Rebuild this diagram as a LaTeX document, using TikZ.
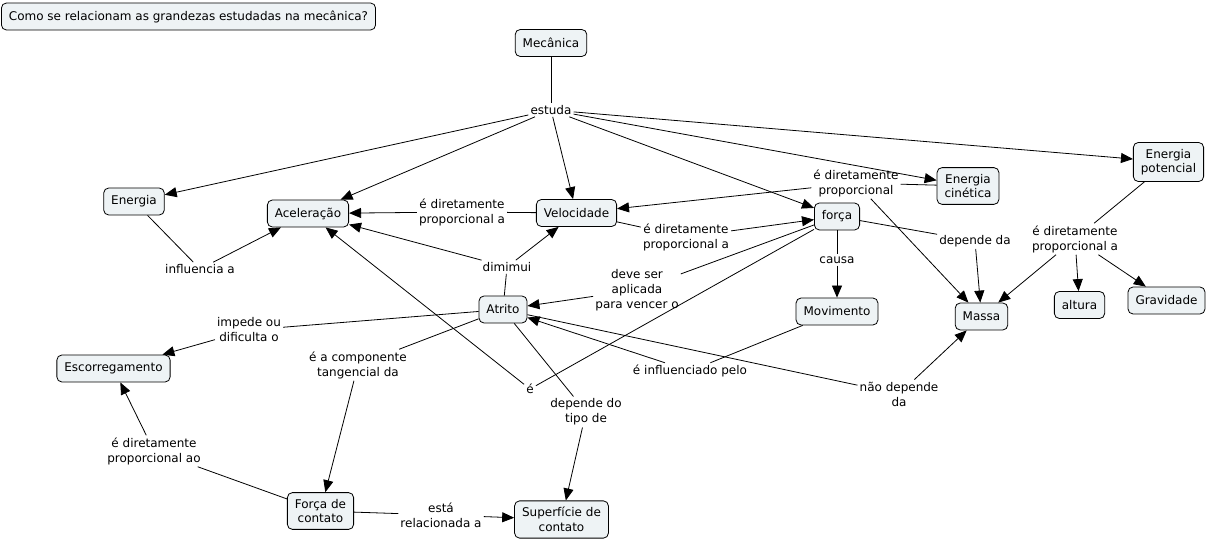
\documentclass[tikz,border=0pt]{standalone}
\usepackage{fontspec}
\setmainfont{DejaVu Sans}
\usetikzlibrary{arrows.meta}
\definecolor{nodefill}{HTML}{EEF3F5}
\tikzset{
  concept/.style={draw=black, line width=0.8bp, rounded corners=5bp, fill=nodefill, align=center, inner xsep=7.5bp, inner ysep=6.5bp, minimum height=27bp, font=\fontsize{12bp}{14.5bp}\selectfont},
  lbl/.style={align=center, inner sep=2bp, font=\fontsize{12bp}{15bp}\selectfont},
  ln/.style={line width=0.8bp},
  arr/.style={line width=0.8bp, -{Triangle[length=12bp,width=10bp]}}
}
\begin{document}
\begin{tikzpicture}[x=1bp,y=-1bp]
\useasboundingbox (0,0) rectangle (1208,542);
% concepts
\node[concept, minimum width=373bp, inner ysep=4bp] (title) at (188.5,16.5) {Como se relacionam as grandezas estudadas na mecânica?};
\node[concept] (mec) at (551,43) {Mecânica};
\node[concept] (energia) at (134,201.5) {Energia};
\node[concept] (acel) at (308,213.5) {Aceleração};
\node[concept] (vel) at (576.5,213) {Velocidade};
\node[concept] (forca) at (837,216.5) {força};
\node[concept] (ecin) at (968,186) {Energia\\cinética};
\node[concept] (epot) at (1168.5,162) {Energia\\potencial};
\node[concept] (massa) at (981.5,316.5) {Massa};
\node[concept] (altura) at (1079.5,305) {altura};
\node[concept] (grav) at (1166.5,300.5) {Gravidade};
\node[concept] (mov) at (837,311.5) {Movimento};
\node[concept] (atrito) at (503,309.5) {Atrito};
\node[concept] (escorr) at (113.5,368.5) {Escorregamento};
\node[concept] (fcont) at (320.5,511) {Força de\\contato};
\node[concept] (sup) at (561.5,519.5) {Superfície de\\contato};
% labels
\node[lbl] (estuda) at (551,110) {estuda};
\node[lbl] (l1) at (462,212) {é diretamente\\proporcional a};
\node[lbl] (l2) at (200,269) {influencia a};
\node[lbl] (l3) at (686,237) {é diretamente\\proporcional a};
\node[lbl] (l4) at (856,183) {é diretamente\\proporcional};
\node[lbl] (l5) at (975,241) {depende da};
\node[lbl] (l6) at (837,260) {causa};
\node[lbl] (l7) at (1075,239) {é diretamente\\proporcional a};
\node[lbl] (l8) at (507,267) {dimimui};
\node[lbl] (l9) at (637,290) {deve ser\\aplicada\\para vencer o};
\node[lbl] (l10) at (249,330) {impede ou\\dificulta o};
\node[lbl] (l11) at (358,365) {é a componente\\tangencial da};
\node[lbl] (l12) at (530,389) {é};
\node[lbl] (l13) at (586,412) {depende do\\tipo de};
\node[lbl] (l14) at (690,371) {é influenciado pelo};
\node[lbl] (l15) at (899,394) {não depende\\da};
\node[lbl] (l16) at (154,451) {é diretamente\\proporcional ao};
\node[lbl] (l17) at (441,515) {está\\relacionada a};
% connectors
\draw[ln] (mec) -- (estuda);
\draw[arr] (estuda) -- (energia);
\draw[arr] (estuda) -- (acel);
\draw[arr] (estuda) -- (vel);
\draw[arr] (estuda) -- (forca);
\draw[arr] (estuda) -- (ecin);
\draw[arr] (estuda) -- (epot);
\draw[ln] (vel) -- (l1);
\draw[arr] (l1) -- (acel);
\draw[ln] (energia) -- (l2);
\draw[arr] (l2) -- (acel);
\draw[ln] (vel) -- (l3);
\draw[arr] (l3) -- (forca);
\draw[ln] (ecin) -- (l4);
\draw[arr] (l4) -- (vel);
\draw[arr] (l4) -- (massa);
\draw[ln] (forca) -- (l5);
\draw[arr] (l5) -- (massa);
\draw[ln] (forca) -- (l6);
\draw[arr] (l6) -- (mov);
\draw[ln] (epot) -- (l7);
\draw[arr] (l7) -- (altura);
\draw[arr] (l7) -- (grav);
\draw[arr] (l7) -- (massa);
\draw[ln] (atrito) -- (l8);
\draw[arr] (l8) -- (acel);
\draw[arr] (l8) -- (vel);
\draw[ln] (forca) -- (l9);
\draw[arr] (l9) -- (atrito);
\draw[ln] (atrito) -- (l10);
\draw[arr] (l10) -- (escorr);
\draw[ln] (atrito) -- (l11);
\draw[arr] (l11) -- (fcont);
\draw[ln] (forca) -- (l12);
\draw[arr] (l12) -- (acel);
\draw[ln] (atrito) -- (l13);
\draw[arr] (l13) -- (sup);
\draw[ln] (mov) -- (l14);
\draw[arr] (l14) -- (atrito);
\draw[ln] (atrito) -- (l15);
\draw[arr] (l15) -- (massa);
\draw[ln] (fcont) -- (l16);
\draw[arr] (l16) -- (escorr);
\draw[ln] (fcont) -- (l17);
\draw[arr] (l17) -- (sup);
\end{tikzpicture}
\end{document}
